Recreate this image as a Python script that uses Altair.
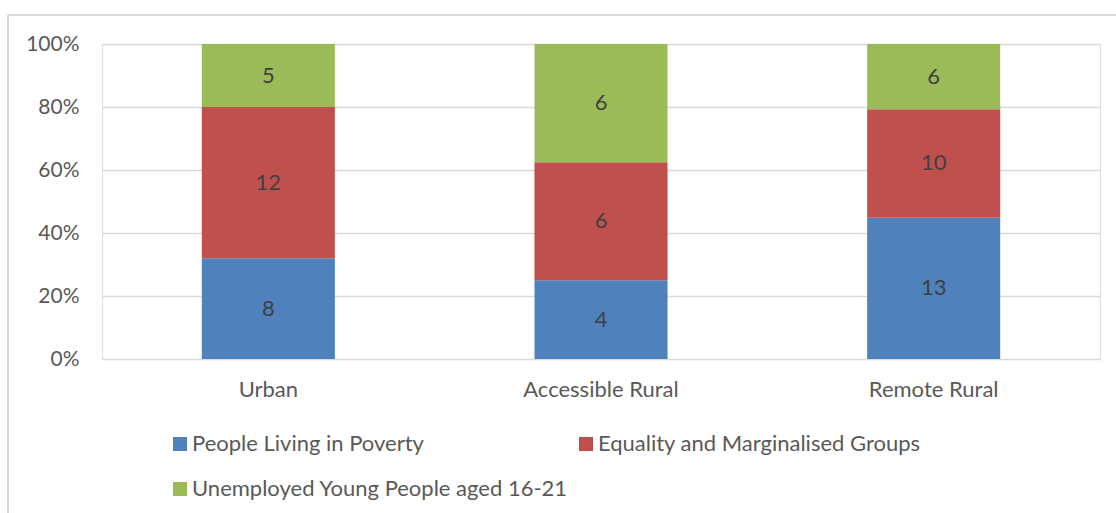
import altair as alt
import pandas as pd

areas = ["Urban", "Accessible Rural", "Remote Rural"]
groups = [
    "People Living in Poverty",
    "Equality and Marginalised Groups",
    "Unemployed Young People aged 16-21",
]
colors = ["#4F81BD", "#C0504D", "#9BBB59"]
poverty = [8, 4, 13]
equality = [12, 6, 10]
young = [5, 6, 6]

series = [poverty, equality, young]
rows = []
for i, area in enumerate(areas):
    total = sum(s[i] for s in series)
    cum = 0
    for k, g in enumerate(groups):
        v = series[k][i]
        rows.append({
            "area": area,
            "group": g,
            "order": k,
            "count": v,
            "mid": (cum + v / 2) / total,
        })
        cum += v
df = pd.DataFrame(rows)

FONT = "Lato"
GREY = "#595959"
FS = 22

x_enc = alt.X(
    "area:N",
    sort=areas,
    title=None,
    scale=alt.Scale(paddingInner=0.6, paddingOuter=0.3),
    axis=alt.Axis(labelAngle=0, labelFontSize=FS, labelColor=GREY, labelFont=FONT,
                  labelPadding=20, ticks=False, domain=False),
)

bars = alt.Chart(df).mark_bar().encode(
    x=x_enc,
    y=alt.Y(
        "count:Q",
        stack="normalize",
        title=None,
        axis=alt.Axis(format="%", values=[0, 0.2, 0.4, 0.6, 0.8, 1.0], labelFontSize=21,
                      labelColor=GREY, labelFont=FONT, labelPadding=23, ticks=False,
                      domain=False, gridColor="#D9D9D9", gridWidth=1.3),
    ),
    color=alt.Color(
        "group:N",
        sort=groups,
        scale=alt.Scale(domain=groups, range=colors),
        legend=alt.Legend(
            title=None,
            orient="none",
            direction="horizontal",
            legendX=67,
            legendY=389,
            columns=2,
            columnPadding=7,
            rowPadding=23,
            symbolType="square",
            symbolSize=196,
            symbolStrokeWidth=0,
            labelFontSize=FS,
            labelFont=FONT,
            labelColor=GREY,
            labelOffset=1,
            labelLimit=600,
        ),
    ),
    order=alt.Order("order:Q"),
)

labels = alt.Chart(df).mark_text(fontSize=FS, font=FONT, color="#404040").encode(
    x=alt.X("area:N", sort=areas),
    y=alt.Y("mid:Q"),
    text="count:Q",
)

# Frame lines along the top and left edge of the page
top_edge = alt.Chart(df).mark_rule(color="#D9D9D9", strokeWidth=1.5).encode(
    x=alt.value(-94), x2=alt.value(1020), y=alt.value(-29)
)
left_edge = alt.Chart(df).mark_rule(color="#D9D9D9", strokeWidth=1.5).encode(
    x=alt.value(-94), y=alt.value(-29), y2=alt.value(480)
)

chart = alt.layer(bars, labels, top_edge, left_edge).properties(
    width=998,
    height=315,
    autosize=alt.AutoSizeParams(type="none"),
    padding={"left": 102, "top": 44, "right": 16, "bottom": 154},
).configure_view(stroke=None).configure(background="white")

chart.save("out.html", embed_options={"renderer": "svg", "actions": False})
